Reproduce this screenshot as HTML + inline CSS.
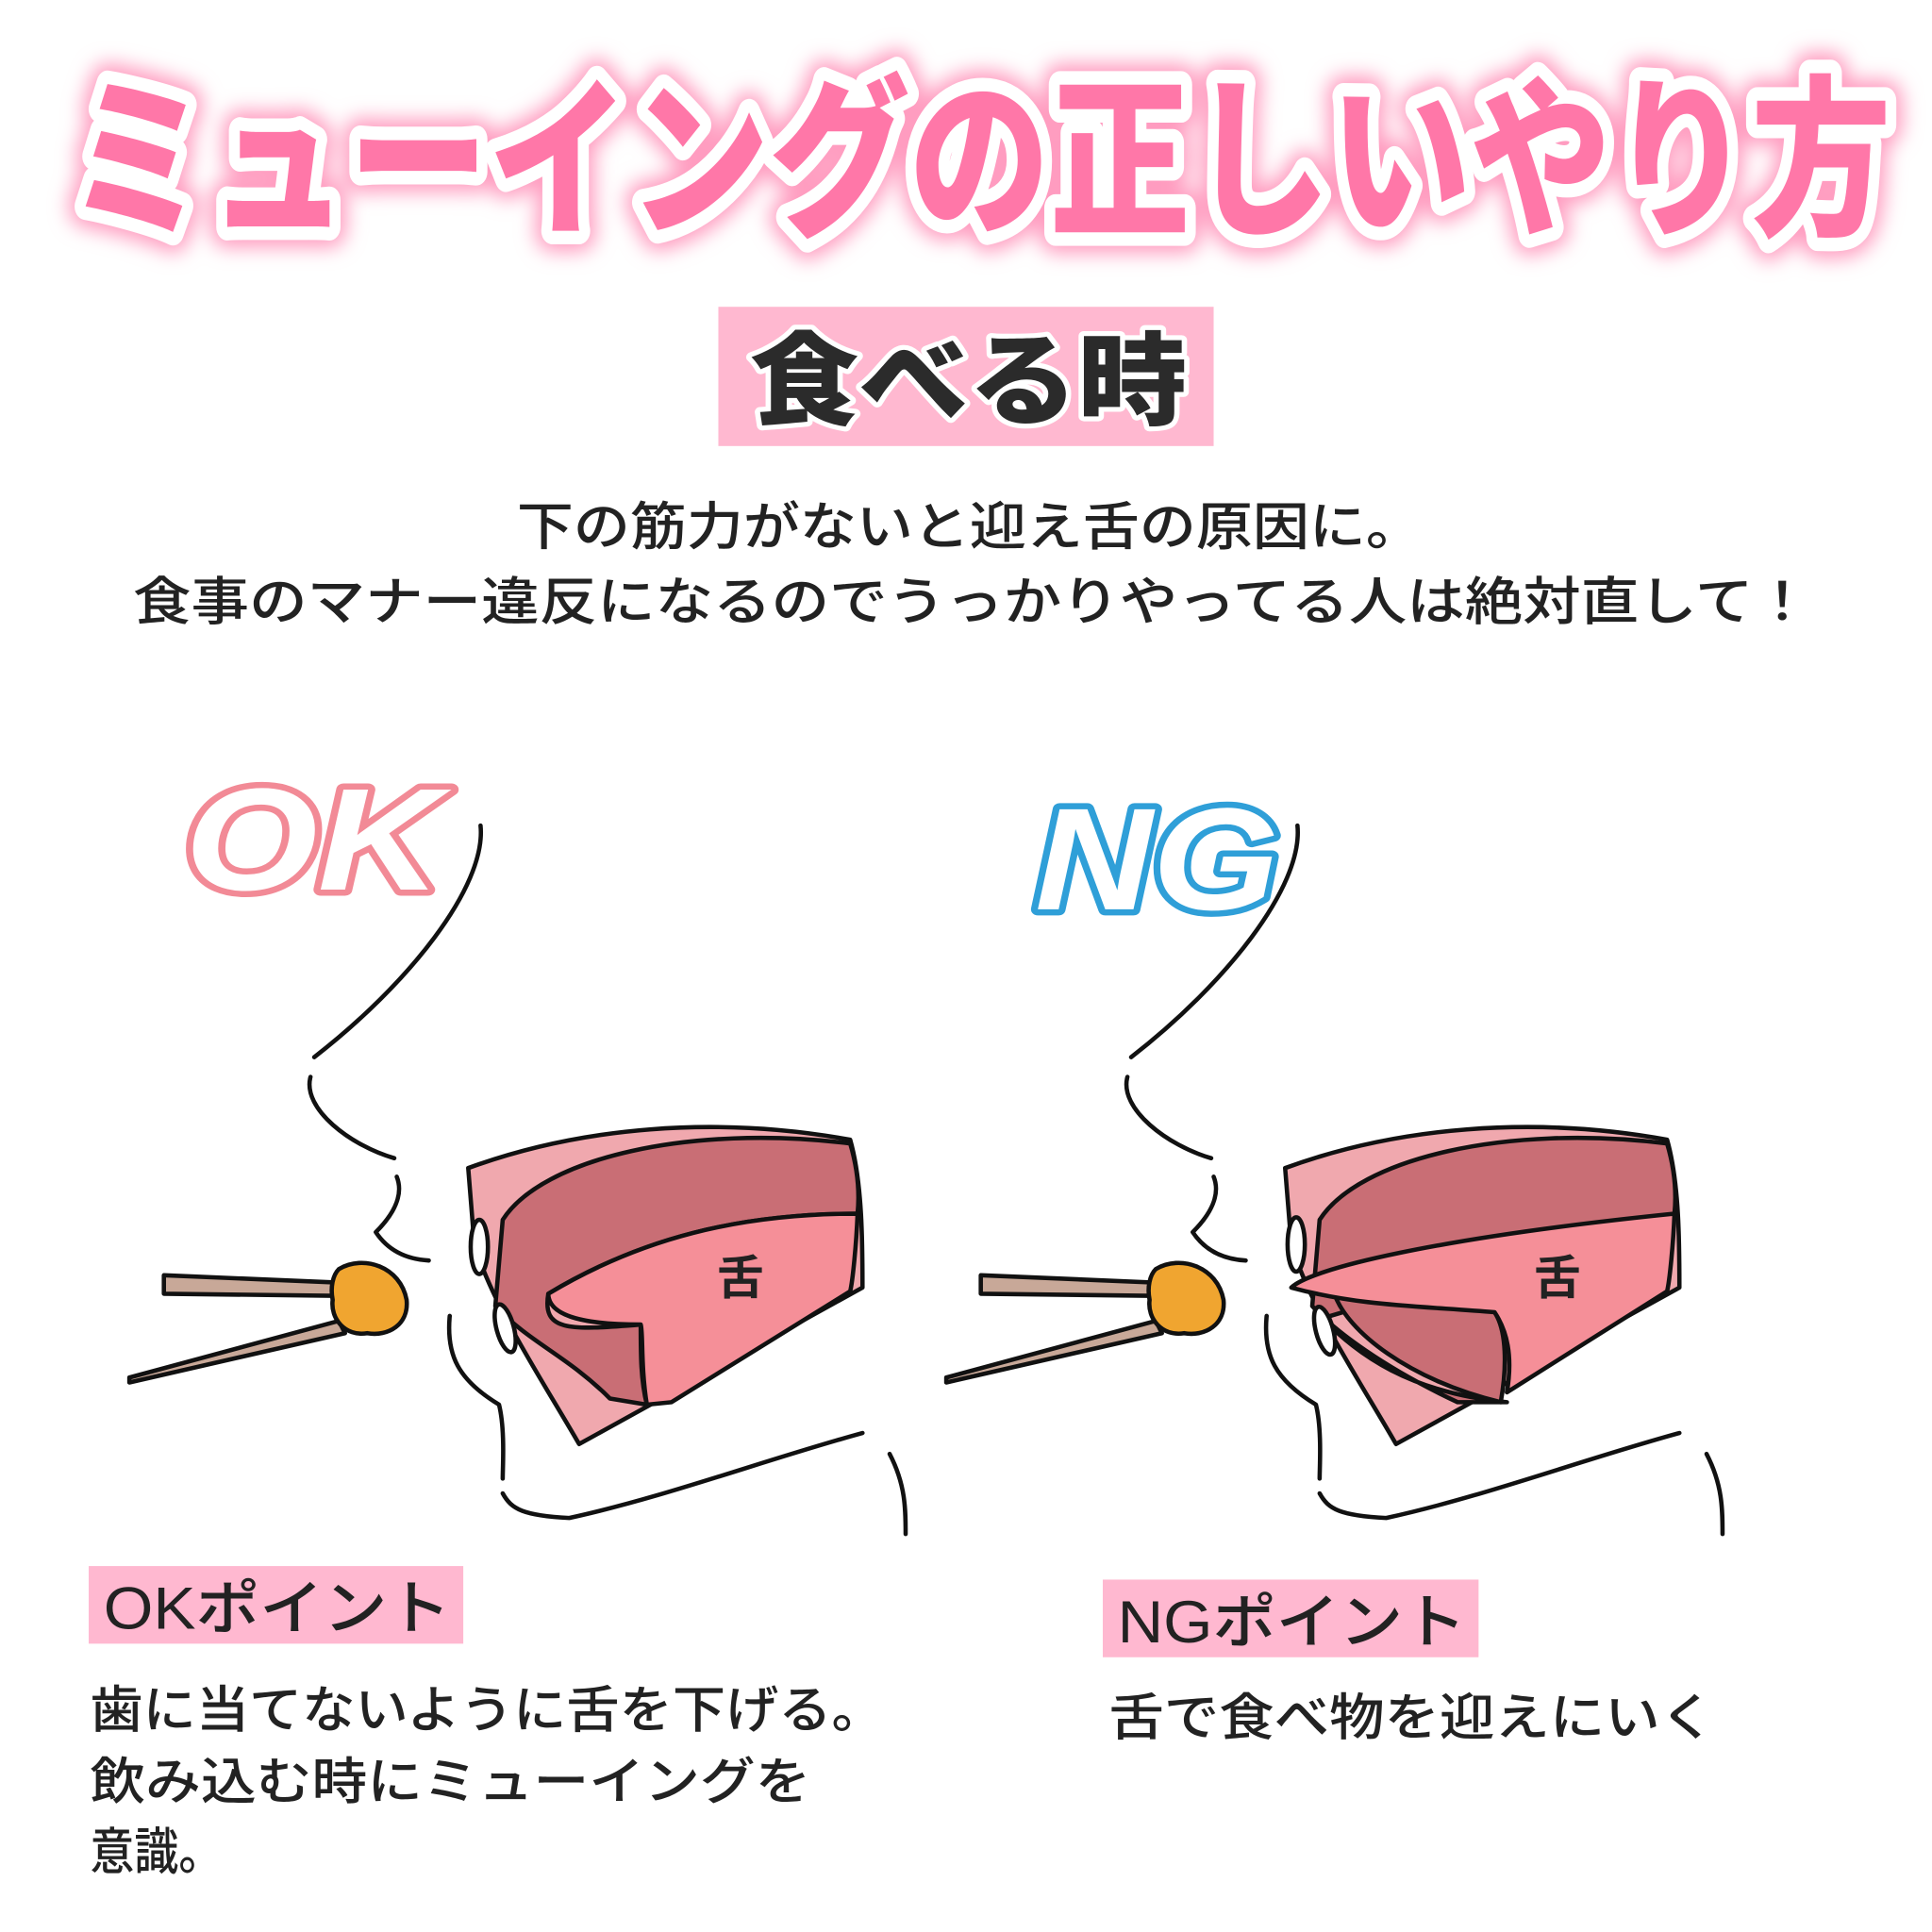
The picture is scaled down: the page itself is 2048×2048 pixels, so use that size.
<!DOCTYPE html>
<html><head><meta charset="utf-8"><style>
html,body{margin:0;padding:0;background:#fff;}
svg{display:block;}
text{font-family:"Liberation Sans","Noto Sans CJK JP",sans-serif;}
</style></head><body>
<svg width="2048" height="2048" viewBox="0 0 1568 1568" xmlns="http://www.w3.org/2000/svg">
<defs>
<filter id="glow" x="-10%" y="-30%" width="120%" height="160%"><feGaussianBlur stdDeviation="8"/></filter>
</defs>
<!-- Title -->
<text x="795" y="180" text-anchor="middle" font-size="140" font-weight="800" fill="#ffb0cc" stroke="#ff9cc0" stroke-width="34" stroke-linejoin="round" filter="url(#glow)" textLength="1480" lengthAdjust="spacingAndGlyphs">ミューイングの正しいやり方</text>
<text x="795" y="180" text-anchor="middle" font-size="140" font-weight="800" fill="#ff77a8" stroke="#fff" stroke-width="22" stroke-linejoin="round" paint-order="stroke" textLength="1480" lengthAdjust="spacingAndGlyphs">ミューイングの正しいやり方</text>

<!-- 食べる時 -->
<rect x="583" y="249" width="402" height="113" fill="#ffb8d0"/>
<text x="786" y="338" text-anchor="middle" font-size="82" font-weight="900" fill="#2b2b2b" stroke="#fff" stroke-width="8" stroke-linejoin="round" paint-order="stroke" textLength="355" lengthAdjust="spacingAndGlyphs">食べる時</text>

<text x="787" y="442" text-anchor="middle" font-size="42" font-weight="500" fill="#222" textLength="735" lengthAdjust="spacingAndGlyphs">下の筋力がないと迎え舌の原因に。</text>
<text x="789" y="503" text-anchor="middle" font-size="42" font-weight="500" fill="#222" textLength="1362" lengthAdjust="spacingAndGlyphs">食事のマナー違反になるのでうっかりやってる人は絶対直して！</text>

<!-- OK logo -->
<text x="150" y="722" font-size="118" font-weight="900" font-style="italic" fill="#fff" stroke="#f28a96" stroke-width="10" stroke-linejoin="round" paint-order="stroke" textLength="208" lengthAdjust="spacingAndGlyphs" font-family="Liberation Sans, sans-serif">OK</text>
<!-- NG logo -->
<text x="840" y="738" font-size="118" font-weight="900" font-style="italic" fill="#fff" stroke="#2f9fd8" stroke-width="10" stroke-linejoin="round" paint-order="stroke" textLength="198" lengthAdjust="spacingAndGlyphs" font-family="Liberation Sans, sans-serif">NG</text>

<!-- OK drawing -->
<g fill="none" stroke="#111" stroke-width="3.5" stroke-linecap="round" stroke-linejoin="round">
  <path d="M390,670 C395,720 330,800 255,858"/>
  <path d="M252,874 C245,900 285,930 320,940"/>
  <path d="M322,955 C330,975 310,995 305,1000 C315,1015 330,1022 348,1023"/>
  <path d="M365,1068 C362,1100 372,1120 405,1140 C410,1160 408,1190 408,1200"/>
  <path d="M408,1212 C415,1225 425,1230 462,1232 C540,1215 620,1185 700,1163"/>
  <path d="M722,1180 C735,1205 735,1225 735,1245"/>
</g>
<g fill="#c8a898" stroke="#111" stroke-width="3.5" stroke-linejoin="round">
  <path d="M133,1035 L300,1042 C305,1046 305,1050 300,1052 L133,1050 Z"/>
  <path d="M105,1118 L275,1072 L280,1082 L105,1122 Z"/>
</g>
<path d="M275,1030 C295,1018 325,1028 330,1055 C332,1075 315,1085 298,1082 C280,1085 268,1070 270,1055 C268,1045 270,1035 275,1030Z" fill="#f0a530" stroke="#111" stroke-width="3.5"/>
<g stroke="#111" stroke-width="3.5" stroke-linejoin="round">
  <path d="M380,948 C470,915 580,905 690,925 C700,960 700,1010 700,1045 L470,1172 C440,1120 400,1060 385,1010 Z" fill="#f0a8ae"/>
  <path d="M408,990 C440,940 560,912 690,928 C698,955 697,975 696,985 C600,985 520,1005 445,1050 C440,1080 460,1080 520,1075 C520,1100 520,1120 525,1140 L495,1135 C460,1100 430,1090 402,1060 Z" fill="#c96e75"/>
  <path d="M445,1050 C520,1005 600,985 696,985 C695,1010 692,1040 690,1048 L545,1138 L525,1140 C520,1110 522,1080 520,1075 C480,1075 445,1070 445,1050Z" fill="#f58f98"/>
  <ellipse cx="389" cy="1012" rx="7" ry="22" fill="#fff"/>
  <ellipse cx="410" cy="1078" rx="7" ry="20" fill="#fff" transform="rotate(-15 410 1078)"/>
</g>
<text x="582" y="1050" font-size="38" font-weight="700" fill="#222">舌</text>

<!-- NG drawing -->
<g transform="translate(663,0)">
<g fill="none" stroke="#111" stroke-width="3.5" stroke-linecap="round" stroke-linejoin="round">
  <path d="M390,670 C395,720 330,800 255,858"/>
  <path d="M252,874 C245,900 285,930 320,940"/>
  <path d="M322,955 C330,975 310,995 305,1000 C315,1015 330,1022 348,1023"/>
  <path d="M365,1068 C362,1100 372,1120 405,1140 C410,1160 408,1190 408,1200"/>
  <path d="M408,1212 C415,1225 425,1230 462,1232 C540,1215 620,1185 700,1163"/>
  <path d="M722,1180 C735,1205 735,1225 735,1245"/>
</g>
<g fill="#c8a898" stroke="#111" stroke-width="3.5" stroke-linejoin="round">
  <path d="M133,1035 L300,1042 C305,1046 305,1050 300,1052 L133,1050 Z"/>
  <path d="M105,1118 L275,1072 L280,1082 L105,1122 Z"/>
</g>
<path d="M275,1030 C295,1018 325,1028 330,1055 C332,1075 315,1085 298,1082 C280,1085 268,1070 270,1055 C268,1045 270,1035 275,1030Z" fill="#f0a530" stroke="#111" stroke-width="3.5"/>
<g stroke="#111" stroke-width="3.5" stroke-linejoin="round">
  <path d="M380,948 C470,915 580,905 690,925 C700,960 700,1010 700,1045 L470,1172 C440,1120 400,1060 385,1010 Z" fill="#f0a8ae"/>
  <path d="M408,990 C440,940 560,912 690,928 C698,955 697,975 696,985 L410,1070 C440,1100 480,1130 560,1138 L520,1138 C460,1110 420,1080 402,1060 Z" fill="#c96e75"/>
  <path d="M420,1050 C430,1080 480,1120 555,1138 C560,1110 560,1080 550,1065 C500,1050 450,1050 420,1050Z" fill="#c96e75"/>
  <path d="M385,1045 C400,1030 500,1005 696,985 C695,1010 692,1040 690,1048 L560,1130 C565,1100 560,1080 550,1065 C490,1060 440,1060 385,1045Z" fill="#f58f98"/>
  <ellipse cx="389" cy="1010" rx="7" ry="22" fill="#fff"/>
  <ellipse cx="412" cy="1080" rx="7" ry="20" fill="#fff" transform="rotate(-15 412 1080)"/>
</g>
<text x="582" y="1050" font-size="38" font-weight="700" fill="#222">舌</text>
</g>

<!-- Bottom labels -->
<rect x="72" y="1271" width="304" height="63" fill="#ffb8d0"/>
<text x="84" y="1322" font-size="48" font-weight="500" fill="#222" textLength="282" lengthAdjust="spacingAndGlyphs">OKポイント</text>
<rect x="895" y="1282" width="305" height="63" fill="#ffb8d0"/>
<text x="907" y="1333" font-size="48" font-weight="500" fill="#222" textLength="283" lengthAdjust="spacingAndGlyphs">NGポイント</text>

<g font-size="41" font-weight="500" fill="#222">
<text x="73" y="1402" textLength="645" lengthAdjust="spacingAndGlyphs">歯に当てないように舌を下げる。</text>
<text x="73" y="1460" textLength="585" lengthAdjust="spacingAndGlyphs">飲み込む時にミューイングを</text>
<text x="73" y="1517" textLength="108" lengthAdjust="spacingAndGlyphs">意識。</text>
<text x="900" y="1408" textLength="492" lengthAdjust="spacingAndGlyphs">舌で食べ物を迎えにいく</text>
</g>
</svg>
</body></html>
